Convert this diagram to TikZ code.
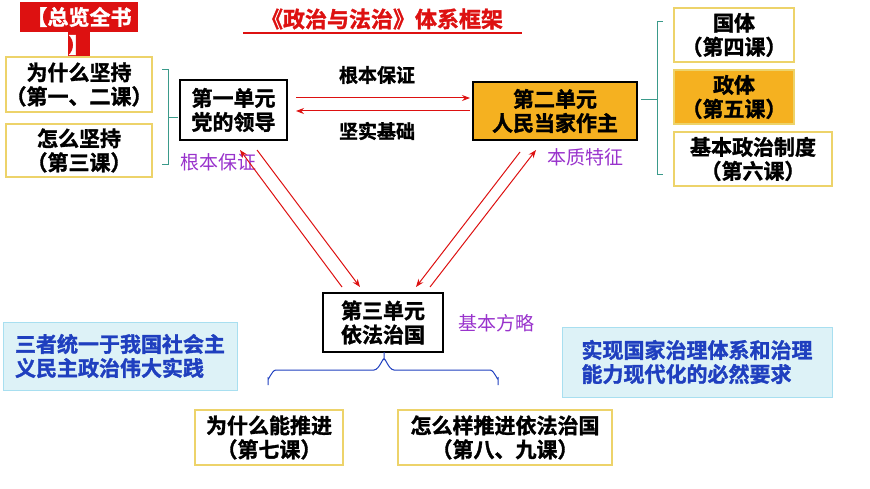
\documentclass[tikz,border=0pt]{standalone}
\usepackage{fontspec}
\setmainfont{Noto Sans CJK SC}
\newfontfamily\cjkb[AutoFakeBold=1.5]{Noto Sans CJK SC Bold}
\usetikzlibrary{decorations.pathreplacing,arrows.meta}
\definecolor{ybord}{HTML}{EDD36A}
\definecolor{org}{HTML}{F5B120}
\definecolor{teal1}{HTML}{3A9A8A}
\definecolor{purp}{HTML}{9933CC}
\definecolor{cyf}{HTML}{DDF2F7}
\definecolor{cyb}{HTML}{A8DFF0}
\definecolor{dblue}{HTML}{1F3FBF}
\definecolor{rd}{HTML}{DD1111}
\tikzset{
 txt/.style={font=\cjkb\bfseries\fontsize{21}{24}\selectfont, align=center, inner sep=0},
 ybox/.style={draw=ybord, line width=1.2pt, fill=white},
 kbox/.style={draw=black, line width=1.5pt, fill=white},
 plab/.style={font=\fontsize{19}{22}\selectfont, text=purp, inner sep=0},
 blab/.style={font=\cjkb\bfseries\fontsize{19}{22}\selectfont, inner sep=0},
 cbox/.style={draw=cyb, fill=cyf, line width=1pt},
 ra/.style={draw=rd, line width=1pt, -{Stealth[length=8pt,width=6pt]}},
}
\begin{document}
\begin{tikzpicture}[x=1pt,y=-1pt]
\useasboundingbox (0,0) rectangle (870,489);
% header tag
\fill[rd] (20,2) rectangle (138,32);
\fill[rd] (68,32) rectangle (90,57);
\node[font=\cjkb\bfseries\fontsize{21}{24}\selectfont, text=white, inner sep=0] (tag) at (79,17) {【总览全书};
\node[font=\cjkb\bfseries\fontsize{21}{24}\selectfont, text=white, inner sep=0] (tag2) at (79,45) {】};
% title
\node[font=\cjkb\bfseries\fontsize{22}{26}\selectfont, text=rd, inner sep=0] (title) at (382,19) {《政治与法治》体系框架};
\draw[rd, line width=1.2pt] (243,33) -- (522,33);
% left boxes
\draw[ybox] (6,57) rectangle (152,112);
\node[txt] (a) at (79,84.5) {为什么坚持\\（第一、二课）};
\draw[ybox] (6,124) rectangle (152,177);
\node[txt] (b) at (79,150.5) {怎么坚持\\（第三课）};
\draw[teal1, line width=1pt] (162,70) -- (168,70) -- (168,165) -- (162,165) (168,118) -- (178,118);
% unit1
\draw[kbox] (180,80) rectangle (287,140);
\node[txt, align=left] (u1) at (233.5,110) {第一单元\\党的领导};
% unit2
\draw[kbox, fill=org] (473,82) rectangle (637,140);
\node[txt] (u2) at (555,111) {第二单元\\人民当家作主};
\coordinate (h1) at (296,98); \coordinate (h2) at (470,98);
\coordinate (h3) at (470,111); \coordinate (h4) at (296,111);
\draw[ra] (h1) -- (h2);
\draw[ra] (h3) -- (h4);
\node[blab] (l1) at (377,75) {根本保证};
\node[blab] (l2) at (377,131) {坚实基础};
% right bracket
\draw[teal1, line width=1pt] (663,22) -- (657,22) -- (657,175) -- (663,175) (657,100) -- (641,100);
\draw[ybox] (674,8) rectangle (794,62);
\node[txt] (c) at (734,35) {国体\\（第四课）};
\draw[ybox, fill=org] (674,70) rectangle (794,124);
\node[txt] (d) at (734,97) {政体\\（第五课）};
\draw[ybox] (674,132) rectangle (832,186);
\node[txt] (e) at (753,159) {基本政治制度\\（第六课）};
% purple labels
\node[plab] (p1) at (218,162) {根本保证};
\node[plab] (p2) at (585,157) {本质特征};
\node[plab] (p3) at (496,323) {基本方略};
% unit3
\draw[kbox] (323,293) rectangle (443,352);
\node[txt, align=left] (u3) at (383,322.5) {第三单元\\依法治国};
\coordinate (d1) at (257,150); \coordinate (d2) at (360,287);
\coordinate (d3) at (342,287); \coordinate (d4) at (240,150);
\coordinate (d5) at (520,152); \coordinate (d6) at (416,287);
\coordinate (d7) at (430,287); \coordinate (d8) at (536,150);
\draw[ra] (d1) -- (d2);
\draw[ra] (d3) -- (d4);
\draw[ra] (d5) -- (d6);
\draw[ra] (d7) -- (d8);
% brace
\draw[dblue, line width=1pt] (268,385) -- (268,378) to[out=-90,in=180] (276,370) -- (374,370) to[out=0,in=90] (384,360) -- (384,352)
 (384,360) to[out=90,in=180] (394,370) -- (490,370) to[out=0,in=-90] (498,378) -- (498,385);
\draw[ybox] (195,410) rectangle (343,465);
\node[txt] (f) at (269,437.5) {为什么能推进\\（第七课）};
\draw[ybox] (398,410) rectangle (612,465);
\node[txt] (g) at (505,437.5) {怎么样推进依法治国\\（第八、九课）};
% cyan boxes
\draw[cbox] (3,322) rectangle (237,390);
\node[txt, text=dblue, align=left] (h) at (120,356) {三者统一于我国社会主\\义民主政治伟大实践};
\draw[cbox] (562,327) rectangle (832,397);
\node[txt, text=dblue, align=left] (i) at (697,362) {实现国家治理体系和治理\\能力现代化的必然要求};
\end{tikzpicture}
\end{document}
